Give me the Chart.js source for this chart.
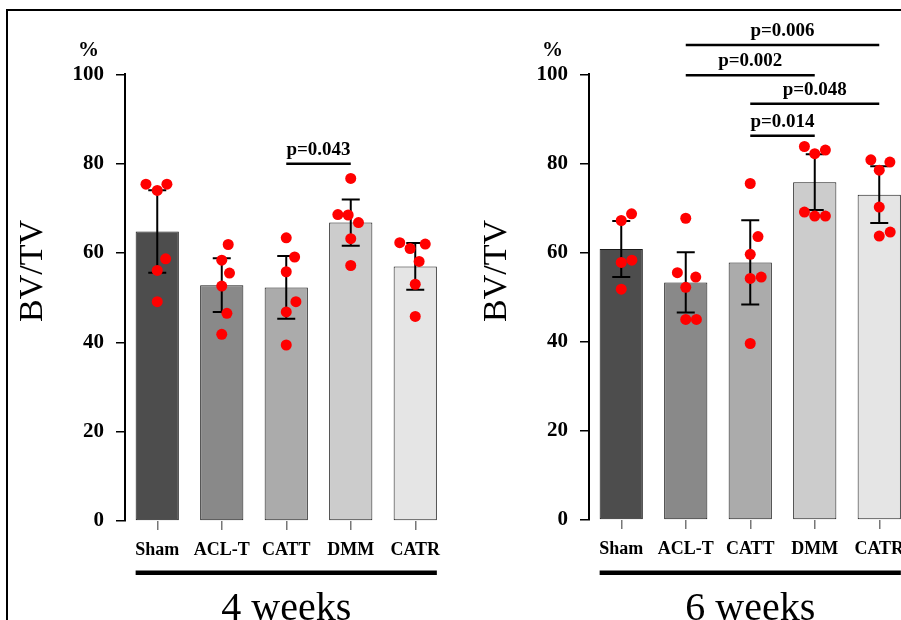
<!DOCTYPE html>
<html><head><meta charset="utf-8">
<script src="https://cdn.jsdelivr.net/npm/chart.js@4"></script>
<style>
html,body{margin:0;padding:0;background:#fff;width:901px;height:620px;overflow:hidden;position:relative}
#frame{position:absolute;left:6px;top:9px;width:1000px;height:1000px;border-left:2px solid #000;border-top:2px solid #000}
.wrap{position:absolute;top:0;width:465px;height:620px}
</style></head><body>
<div id="frame"></div>
<div class="wrap" style="left:0"><canvas id="c4" width="465" height="620"></canvas></div>
<div class="wrap" style="left:464px"><canvas id="c6" width="465" height="620"></canvas></div>
<script>
const categories = ['Sham','ACL-T','CATT','DMM','CATR'];
const yTicks = [0,20,40,60,80,100];
const barColors = ['#4d4d4d','#898989','#ababab','#cccccc','#e5e5e5'];

// 4 weeks
const mean4 = [64.8, 52.8, 52.3, 66.8, 57.0];
const sd4 = [9.25, 6.0, 7.0, 5.2, 5.25];
const points4 = [
  [75.4, 75.4, 74.0, 58.7, 56.1, 49.1],
  [61.9, 58.4, 55.5, 52.6, 46.5, 41.8],
  [63.4, 59.1, 55.8, 49.1, 46.8, 39.4],
  [76.7, 68.6, 68.5, 66.8, 63.2, 57.2],
  [62.3, 62.0, 61.0, 58.1, 53.0, 45.8]
];
const jitter4 = [
  [-0.175, 0.15, 0, 0.13, 0, 0],
  [0.1, 0, 0.12, 0, 0.08, 0],
  [0, 0.13, 0, 0.15, 0, 0],
  [0, -0.2, -0.04, 0.12, 0, 0],
  [-0.24, 0.155, -0.08, 0.06, 0, 0]
];
const brackets4 = [
  {from: 2, to: 3, y: 80.0, label: 'p=0.043'}
];

// 6 weeks
const mean6 = [60.8, 53.3, 57.8, 75.8, 73.0];
const sd6 = [6.3, 6.75, 9.45, 6.25, 6.35];
const points6 = [
  [68.7, 67.2, 57.8, 58.3, 51.8],
  [67.7, 55.5, 54.5, 52.2, 45.0, 45.0],
  [75.5, 63.6, 59.6, 54.2, 54.5, 39.6],
  [83.8, 82.2, 83.0, 69.1, 68.2, 68.2],
  [80.8, 80.3, 78.5, 70.2, 63.7, 64.6]
];
const jitter6 = [
  [0.16, 0, 0, 0.165, 0],
  [0, -0.13, 0.155, 0, 0, 0.165],
  [0, 0.12, 0, 0, 0.17, 0],
  [-0.16, 0, 0.165, -0.16, 0, 0.165],
  [-0.13, 0.165, 0, 0, 0, 0.17]
];
const brackets6 = [
  {from: 1, to: 4, y: 106.6, label: 'p=0.006'},
  {from: 1, to: 3, y: 99.8, label: 'p=0.002'},
  {from: 2, to: 4, y: 93.4, label: 'p=0.048'},
  {from: 2, to: 3, y: 86.2, label: 'p=0.014'}
];

const SERIF = "'Liberation Serif', 'Times New Roman', serif";

function makeChart(id, period, mean, sd, points, jitter, brackets, bottomPad) {
  const scatter = [];
  points.forEach((g, i) => g.forEach((v, j) => scatter.push({x: i + jitter[i][j], y: v})));

  const extras = {
    id: 'extras',
    afterDatasetDraw(chart, args) {
      if (args.index !== 1) return;
      const ctx = chart.ctx, ys = chart.scales.y, meta = chart.getDatasetMeta(1);
      ctx.save();
      ctx.strokeStyle = '#000'; ctx.lineWidth = 2;
      meta.data.forEach((bar, i) => {
        const x = bar.x;
        const t = ys.getPixelForValue(mean[i] + sd[i]);
        const b = ys.getPixelForValue(mean[i] - sd[i]);
        ctx.beginPath();
        ctx.moveTo(x, t); ctx.lineTo(x, b);
        ctx.moveTo(x - 9, t); ctx.lineTo(x + 9, t);
        ctx.moveTo(x - 9, b); ctx.lineTo(x + 9, b);
        ctx.stroke();
      });
      ctx.restore();
    },
    afterDraw(chart) {
      const ctx = chart.ctx, ys = chart.scales.y, bars = chart.getDatasetMeta(1).data;
      ctx.save();
      ctx.fillStyle = '#000'; ctx.strokeStyle = '#000';
      ctx.lineWidth = 2.5;
      ctx.font = 'bold 19px ' + SERIF;
      ctx.textAlign = 'center'; ctx.textBaseline = 'alphabetic';
      brackets.forEach(b => {
        const x1 = bars[b.from].x, x2 = bars[b.to].x, y = ys.getPixelForValue(b.y);
        ctx.beginPath(); ctx.moveTo(x1, y); ctx.lineTo(x2, y); ctx.stroke();
        ctx.fillText(b.label, (x1 + x2) / 2, y - 9);
      });
      ctx.font = 'bold 21px ' + SERIF;
      ctx.fillText('%', 88.5, 56);
      ctx.save();
      ctx.translate(42, 271); ctx.rotate(-Math.PI / 2);
      ctx.font = '34px ' + SERIF;
      ctx.fillText('BV/TV', 0, 0);
      ctx.restore();
      const first = bars[0], last = bars[bars.length - 1];
      const lx1 = first.x - first.width / 2, lx2 = last.x + last.width / 2;
      ctx.lineWidth = 4.5;
      ctx.beginPath(); ctx.moveTo(lx1, 572.7); ctx.lineTo(lx2, 572.7); ctx.stroke();
      ctx.font = '40px ' + SERIF;
      ctx.fillText(period, (first.x + last.x) / 2, 619.5);
      ctx.restore();
    }
  };

  return new Chart(document.getElementById(id), {
    type: 'bar',
    data: {
      labels: categories,
      datasets: [
        {type: 'scatter', data: scatter, xAxisID: 'xs', yAxisID: 'y', order: 0,
         backgroundColor: '#ff0000', borderWidth: 0, pointRadius: 5.5, pointHoverRadius: 5.5},
        {type: 'bar', data: mean, xAxisID: 'x', yAxisID: 'y', order: 1, grouped: false,
         backgroundColor: barColors, borderColor: '#1a1a1a', borderWidth: 1, borderSkipped: false,
         categoryPercentage: 1, barPercentage: 0.67}
      ]
    },
    options: {
      responsive: false, animation: false,
      layout: {padding: {top: 74.3, bottom: bottomPad, left: 0, right: 17.5}},
      plugins: {legend: {display: false}, tooltip: {enabled: false}},
      scales: {
        x: {
          type: 'category', offset: true,
          grid: {display: true, drawOnChartArea: false, drawTicks: true, tickLength: 9, color: '#777', lineWidth: 1.5, offset: false},
          border: {display: false},
          ticks: {color: '#000', padding: 10, font: {family: SERIF, size: 18, weight: 'bold'}, maxRotation: 0, autoSkip: false},
          afterFit(s) { s.height = 60; }
        },
        xs: {type: 'linear', min: -0.5, max: 4.5, offset: false, display: false, grid: {offset: false}},
        y: {
          min: 0, max: 100,
          afterBuildTicks(s) { s.ticks = yTicks.map(v => ({value: v})); },
          grid: {display: true, drawOnChartArea: false, drawTicks: true, tickLength: 9, color: '#000', lineWidth: 1.5},
          border: {display: true, color: '#000', width: 2},
          ticks: {color: '#000', padding: 12, font: {family: SERIF, size: 21, weight: 'bold'}},
          afterFit(s) { s.width = 125; }
        }
      }
    },
    plugins: [extras]
  });
}

makeChart('c4', '4 weeks', mean4, sd4, points4, jitter4, brackets4, 39);
makeChart('c6', '6 weeks', mean6, sd6, points6, jitter6, brackets6, 40);
</script>
</body></html>
